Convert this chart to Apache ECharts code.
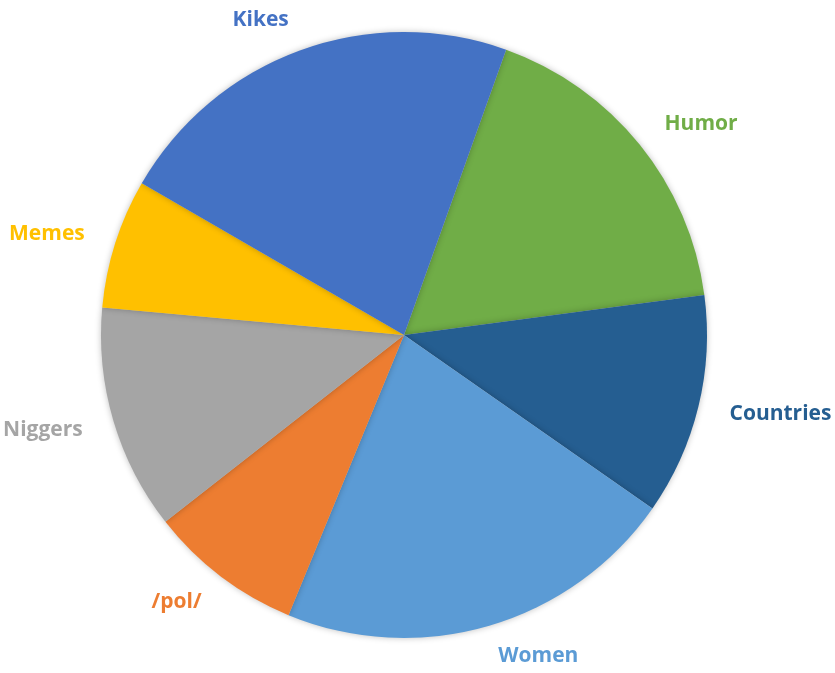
<!DOCTYPE html>
<html>
<head>
<meta charset="utf-8">
<script src="https://cdn.jsdelivr.net/npm/echarts@6/dist/echarts.min.js"></script>
<style>
  html, body { margin: 0; padding: 0; background: #fff; }
  #main { width: 835px; height: 673px; }
</style>
</head>
<body>
<div id="main"></div>
<script>
// clockwise from the Humor slice
var names = ["Humor", "Countries", "Women", "/pol/", "Niggers", "Memes", "Kikes"];
var shares = [17.4, 11.8, 21.5, 8.2, 12.0, 6.9, 22.1];
var colors = ["#70AD47", "#255E91", "#5B9BD5", "#ED7D31", "#A5A5A5", "#FFC000", "#4472C4"];

var myChart = echarts.init(document.getElementById("main"));
var data = names.map(function (n, i) {
  return {
    name: n,
    value: shares[i],
    itemStyle: { color: colors[i] },
    label: { color: colors[i] }
  };
});

var option = {
  animation: false,
  series: [
    {
      type: "pie",
      center: [404, 335],
      radius: 303,
      startAngle: 70.3,
      clockwise: true,
      data: data,
      itemStyle: {
        shadowBlur: 6,
        shadowColor: "rgba(0,0,0,0.25)"
      },
      label: {
        show: true,
        position: "outside",
        formatter: "{b}",
        fontFamily: "Open Sans",
        fontWeight: "bold",
        fontSize: 21,
        overflow: "none",
        distanceToLabelLine: 0
      },
      labelLine: { show: false, length: 32, length2: 0 }
    }
  ]
};

option && myChart.setOption(option);
</script>
</body>
</html>
